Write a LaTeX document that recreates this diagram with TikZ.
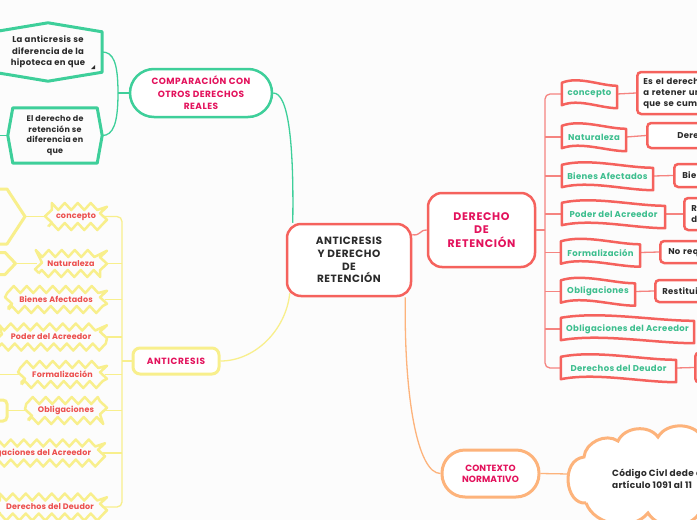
\documentclass[tikz,border=0pt]{standalone}
\usepackage{fontspec}
\setmainfont{Poppins}
\usetikzlibrary{calc,decorations.pathmorphing}
\definecolor{cRed}{HTML}{F5625D}
\definecolor{cRedL}{HTML}{F58480}
\definecolor{cGreen}{HTML}{3ECF9A}
\definecolor{cTeal}{HTML}{3DBE8E}
\definecolor{cYel}{HTML}{F8EF8C}
\definecolor{cOr}{HTML}{FDB37B}
\definecolor{cCrim}{HTML}{E3125C}
\definecolor{cStar}{HTML}{EC4F4E}
\definecolor{cTx}{HTML}{2B2B2B}
\definecolor{cBg}{HTML}{FCFCFC}
\newcommand\flagshape[1]{\draw[cRed, line width=2.5pt, line join=round]
 (#1.north west) .. controls ($(#1.north west)!0.3!(#1.north east)+(0,-7)$) and ($(#1.north west)!0.7!(#1.north east)+(0,3)$) .. ($(#1.north east)+(0,3)$)
 -- ($(#1.south east)+(0,3)$) .. controls ($(#1.south west)!0.7!(#1.south east)+(0,3)$) and ($(#1.south west)!0.3!(#1.south east)+(0,-7)$) .. (#1.south west) -- cycle;}
\newcommand\fnt[3]{\bfseries\fontsize{#1}{#2}\selectfont\addfontfeature{LetterSpace=#3}}
\begin{document}
\begin{tikzpicture}[x=1pt,y=-1pt,
  conn/.style={line width=1.3pt},
  mainbox/.style={draw=cRed, line width=2.5pt, fill=white, rounded corners=14pt, inner sep=0pt, align=center},
  hdr/.style={text=cCrim, font=\fnt{9}{12.5}{5}},
  burst/.style={draw=cYel, line width=2.5pt, line join=round, decorate, decoration={zigzag, segment length=13pt, amplitude=3.5pt}, text=cStar, font=\fnt{8}{10}{2}, inner sep=0pt, minimum height=20pt},
  flagtxt/.style={text=cTeal, font=\fnt{8.5}{10}{4}, inner sep=0pt, minimum height=22pt},
  tbox/.style={draw=cRed, line width=2.5pt, fill=white, rounded corners=4pt, text=cTx, font=\fnt{8.5}{11}{4}, align=left, anchor=west, inner ysep=0pt, text width=90pt},
  hexbox/.style={text=cTx, font=\fnt{8.5}{11.3}{4}, align=center, inner sep=0pt},
  ]
\useasboundingbox (0,0) rectangle (697,520);
\fill[cBg] (0,0) rectangle (697,520);
\clip (0,0) rectangle (697,520);

% ---------- coordinates for connector junctions / free ends
\coordinate (rtr) at (545,230);
\coordinate (ltr) at (122,361);
\coordinate (gj) at (118,93);
\coordinate (h2out) at (-2,135.5);
\coordinate (y1p) at (25,216.5);
\coordinate (y2p) at (15.5,263.5);
\coordinate (y5p) at (-2,374.5);
\coordinate (y6p) at (7,410.5);
\coordinate (cloudL) at (569,474);

% ---------- main nodes
\node[mainbox, text=cTx, font=\fnt{10.5}{12.7}{5}, minimum width=124pt, minimum height=72pt] (cent) at (349,260) {ANTICRESIS\\Y DERECHO\\DE\\RETENCIÓN};
\node[mainbox, draw=cGreen, hdr, rounded corners=24pt, minimum width=142pt, minimum height=48pt] (comp) at (201,93) {COMPARACIÓN CON\\OTROS DERECHOS\\REALES};
\node[mainbox, hdr, font=\fnt{11}{13.5}{6}, minimum width=107pt, minimum height=74pt] (der) at (481.5,230) {DERECHO\\DE\\RETENCIÓN};
\node[mainbox, draw=cYel, line width=3pt, hdr, font=\fnt{9}{11}{7}, rounded corners=7pt, minimum width=86pt, minimum height=26pt] (anti) at (176,361) {ANTICRESIS};
\node[mainbox, draw=cOr, line width=3pt, hdr, rounded corners=23pt, minimum width=97pt, minimum height=47pt, font=\fnt{9}{11}{1}] (ctx) at (490.5,473.5) {CONTEXTO\\NORMATIVO};

% ---------- green children
\node[hexbox, minimum width=108pt, minimum height=40pt] (h1) at (48,52) {La anticresis se\\diferencia de la\\hipoteca en que};
\node[hexbox, font=\fnt{8}{10.7}{3}, minimum width=94pt, minimum height=55pt] (h2) at (55,135.5) {El derecho de\\retención se\\diferencia en\\que};

% ---------- yellow children
\node[burst, minimum width=55pt] (s1) at (76,216.5) {concepto};
\node[burst, minimum width=65pt] (s2) at (71,263.5) {Naturaleza};
\node[burst, minimum width=95pt] (s3) at (56,299.5) {Bienes Afectados};
\node[burst, minimum width=105pt] (s4) at (51,337) {Poder del Acreedor};
\node[burst, minimum width=82pt] (s5) at (62.5,374.5) {Formalización};
\node[burst, minimum width=75pt] (s6) at (66,410.5) {Obligaciones};
\node[burst, minimum width=133pt] (s7) at (35,453) {Obligaciones del Acreedor};
\node[burst, minimum width=107pt] (s8) at (50,507) {Derechos del Deudor};

% ---------- red children (flags)
\node[flagtxt, minimum width=55pt] (f1) at (589.5,94) {concepto};
\node[flagtxt, minimum width=64pt] (f2) at (594,137) {Naturaleza};
\node[flagtxt, minimum width=91pt] (f3) at (607.5,176) {Bienes Afectados};
\node[flagtxt, minimum width=103pt] (f4) at (613.5,214) {Poder del Acreedor};
\node[flagtxt, minimum width=79pt] (f5) at (600.5,252.5) {Formalización};
\node[flagtxt, minimum width=74pt] (f6) at (598,291.5) {Obligaciones};
\node[flagtxt, minimum width=133pt] (f7) at (627.5,329) {Obligaciones del Acreedor};
\node[flagtxt, minimum width=115pt] (f8) at (618.5,368) {Derechos del Deudor};

% ---------- connectors
\begin{scope}[conn]
\draw[cGreen] ($(cent.north west)+(7,0)$) .. controls (294,140) and (288,93) .. (comp.east);
\draw[cYel] ($(cent.south west)+(4,-4)$) .. controls (286,330) and (255,361) .. (anti.east);
\draw[cOr] ($(cent.south east)+(-7,0)$) .. controls (404,400) and (418,473.5) .. (ctx.west);
\draw[cRedL] ($(cent.north east)+(0,12)$) .. controls (421,236) and (419,230) .. (der.west);

\draw[cGreen] (comp.west) -- (gj);
\draw[cGreen] (gj) .. controls (118,62) and (113,52) .. (h1.east);
\draw[cGreen] (gj) .. controls (118,124) and (113,135.5) .. (h2.east);
\draw[cGreen] (h2.west) -- (h2out);

\draw[cYel] (anti.west) -- (ltr);
\draw[cYel, rounded corners=5pt] (s1.east) -- (ltr |- s1.east) -- (ltr |- s8.east) -- (s8.east);
\foreach \n in {s2,s3,s4,s5,s6,s7} \draw[cYel] (ltr |- \n.east) -- (\n.east);
\draw[cYel] (y1p) -- (s1.west);
\draw[cYel] (y2p) -- (s2.west);
\draw[cYel] (y5p) -- (s5.west);
\draw[cYel] (y6p) -- (s6.west);

\draw[cRedL] (der.east) -- (rtr);
\draw[cRedL, rounded corners=5pt] (f1.west) -- (rtr |- f1.west) -- (rtr |- f8.west) -- (f8.west);
\foreach \n in {f2,f3,f4,f5,f6,f7} \draw[cRedL] (rtr |- \n.west) -- (\n.west);

\draw[cOr] (ctx.east) -- (cloudL);
\end{scope}

% ---------- text boxes on the right (cut by the page edge)
\node[tbox, inner xsep=6pt, minimum height=42pt] (t1) at (636,93) {Es el derecho\\a retener un\\que se cumpla};
\node[tbox, inner xsep=30pt, minimum height=25pt] (t2) at (646,135.5) {Derecho};
\node[tbox, inner xsep=8pt, minimum height=23pt] (t3) at (673,175.5) {Bienes};
\node[tbox, inner xsep=7pt, minimum height=32pt] (t4) at (683,214) {Re\\de};
\node[tbox, inner xsep=8pt, minimum height=22pt] (t5) at (659,252) {No requiere};
\node[tbox, inner xsep=7pt, minimum height=22pt] (t6) at (654,291) {Restituir};
\node[tbox, inner xsep=7pt, minimum height=30pt] (t8) at (694,367.5) {};
\begin{scope}[conn, cRedL]
\draw (f1.east) -- (t1.west);
\draw (f2.east) -- (t2.west);
\draw (f3.east) -- (t3.west);
\draw (f4.east) -- (t4.west);
\draw (f5.east) -- (t5.west);
\draw (f6.east) -- (t6.west);
\draw (f8.east) -- (t8.west);
\end{scope}

% ---------- flag outlines
\foreach \n in {f1,f2,f3,f4,f5,f6,f7,f8} {\flagshape{\n}}

% ---------- hexagons (green)
\draw[cGreen, line width=3pt, line join=round] (h1.north west) -- ($(h1.north)+(0,-9)$) -- (h1.north east) -- (h1.south east) -- ($(h1.south)+(0,9)$) -- (h1.south west) -- cycle;
\fill[cTx] (91,69) -- (95,69) -- (95,65) -- cycle;
\draw[cGreen, line width=3pt, line join=round] (h2.west) -- ($(h2.north west)+(5,0)$) -- ($(h2.north east)+(-5,0)$) -- (h2.east) -- ($(h2.south east)+(-5,0)$) -- ($(h2.south west)+(5,0)$) -- cycle;

% ---------- yellow shapes cut by the left edge
\draw[cYel, line width=3pt, line join=round] (-10,189) -- (7,189) -- (y1p) -- (7,244) -- (-10,244);
\draw[cYel, line width=3pt, line join=round] (-10,252.5) -- (5,252.5) -- (y2p) -- (5,274.5) -- (-10,274.5);
\draw[cYel, line width=3pt, rounded corners=4pt] (-20,400) rectangle (7,421);

% ---------- cloud
\draw[cOr, line width=3pt, fill=white] (586,503) .. controls (565,505) and (560,460) .. (584,457)
  to[bend left=60] (618,441) to[bend left=60] (658,437) to[bend left=60] (702,437)
  to[bend left=60] (750,450) to[bend left=60] (752,500) to[bend left=60] (700,512)
  to[bend left=60] (648,513) to[bend left=60] (586,503);
\node[anchor=west, text=cTx, font=\fnt{9}{12}{3}, align=left, inner sep=0pt] (ctxt) at (612,479) {Código Civl dede el\\artículo 1091 al 11};
\end{tikzpicture}
\end{document}
